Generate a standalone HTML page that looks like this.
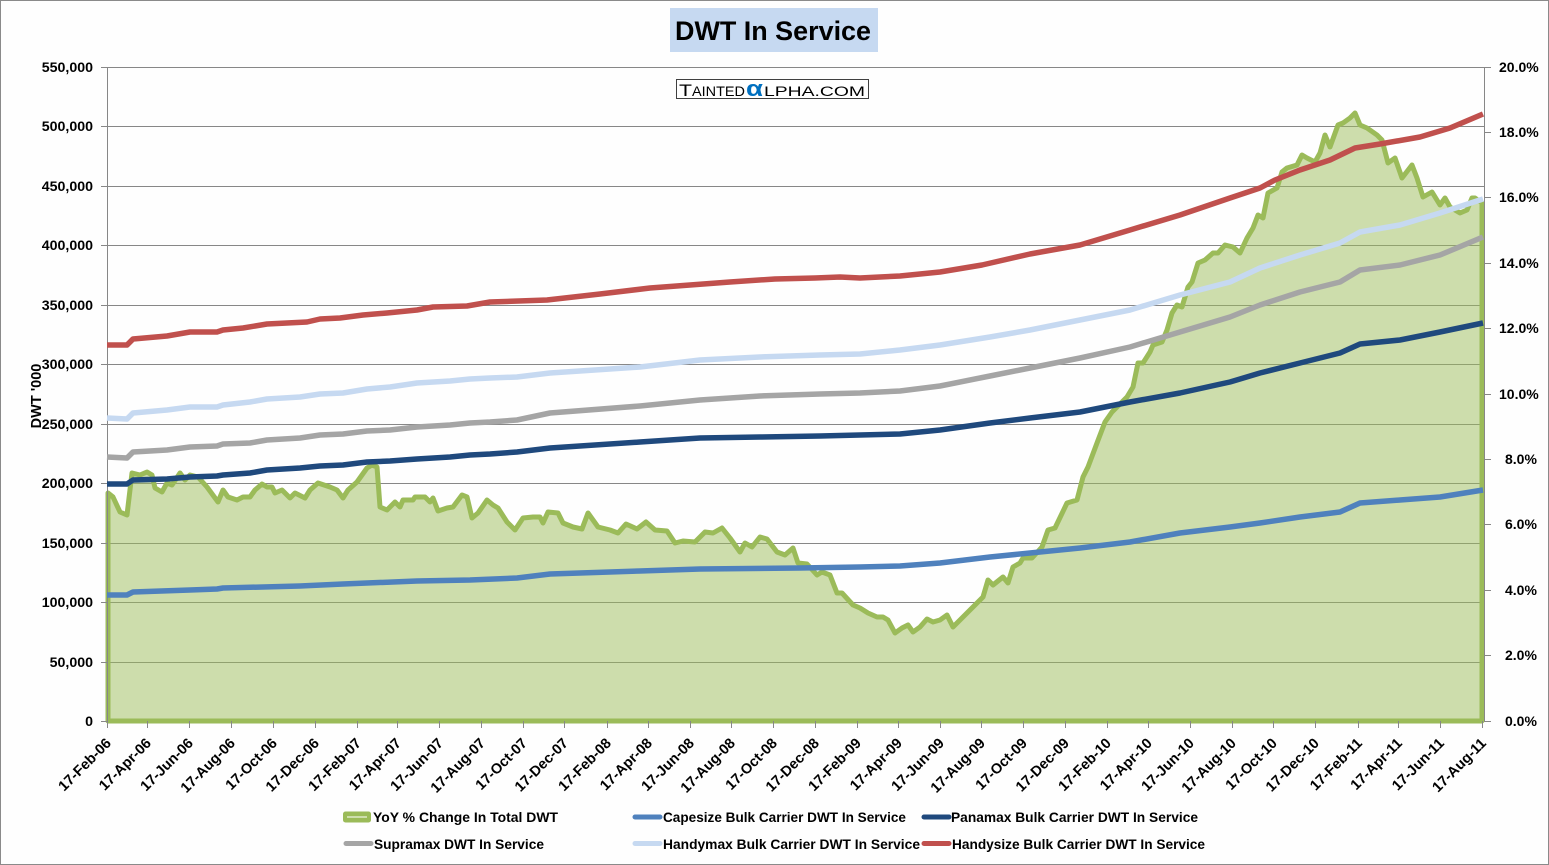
<!DOCTYPE html>
<html>
<head>
<meta charset="utf-8">
<style>
html,body{margin:0;padding:0;background:#fff;}
svg{display:block;}
text{font-family:"Liberation Sans",Arial,sans-serif;font-weight:bold;fill:#000;}
</style>
</head>
<body>
<svg width="1549" height="865" viewBox="0 0 1549 865" xmlns="http://www.w3.org/2000/svg">
<rect x="0.5" y="0.5" width="1548" height="864" fill="#fefefe" stroke="#8a8a8a" stroke-width="1"/>

<!-- Title -->
<rect x="670" y="8" width="208" height="44" fill="#c6d9f1"/>
<text x="675" y="40" font-size="27" textLength="196" lengthAdjust="spacingAndGlyphs" style="font-weight:bold">DWT In Service</text>

<!-- gridlines -->
<g stroke="#878787" stroke-width="1">
<line x1="107" y1="67.5" x2="1484" y2="67.5"/>
<line x1="107" y1="126.5" x2="1484" y2="126.5"/>
<line x1="107" y1="186.5" x2="1484" y2="186.5"/>
<line x1="107" y1="245.5" x2="1484" y2="245.5"/>
<line x1="107" y1="305.5" x2="1484" y2="305.5"/>
<line x1="107" y1="364.5" x2="1484" y2="364.5"/>
<line x1="107" y1="424.5" x2="1484" y2="424.5"/>
<line x1="107" y1="483.5" x2="1484" y2="483.5"/>
<line x1="107" y1="543.5" x2="1484" y2="543.5"/>
<line x1="107" y1="602.5" x2="1484" y2="602.5"/>
<line x1="107" y1="662.5" x2="1484" y2="662.5"/>
<line x1="107" y1="721.5" x2="1484" y2="721.5"/>
</g>

<!-- Logo -->
<rect x="676.5" y="79.5" width="192" height="19" fill="#ffffff" stroke="#404040" stroke-width="1"/>
<text y="96" style="font-weight:normal" fill="#000">
<tspan x="679" font-size="17" textLength="13" lengthAdjust="spacingAndGlyphs">T</tspan><tspan x="692" font-size="13.5" textLength="53" lengthAdjust="spacingAndGlyphs">AINTED</tspan><tspan x="746" font-size="22" fill="#0070c0" style="fill:#0070c0;font-weight:bold" textLength="17" lengthAdjust="spacingAndGlyphs">α</tspan><tspan x="764" font-size="13.5" textLength="101" lengthAdjust="spacingAndGlyphs">LPHA.COM</tspan>
</text>

<!-- YoY area -->
<polygon fill="#9bbb59" fill-opacity="0.5" stroke="none"
points="108,721 108,493 113,497 120,512 127,515 132,473 140,475 147,472 152,475 155,488 162,492 167,483 172,485 180,473 185,480 190,475 198,477 207,487 218,502 223,490 228,497 237,500 243,497 250,497 255,490 262,484 267,487 272,487 275,493 282,490 290,498 295,493 305,498 310,490 318,483 330,487 337,490 343,498 348,490 357,482 367,468 372,465 377,467 380,507 387,510 395,502 400,507 403,500 413,500 415,497 425,497 430,502 433,498 438,511 447,508 453,507 462,495 467,497 472,518 478,513 487,500 493,505 498,508 507,522 515,530 523,518 533,517 540,517 543,523 548,512 558,513 563,523 573,527 582,529 588,513 598,527 610,530 618,533 626,524 637,529 646,522 655,530 667,531 675,543 683,541 695,542 705,532 713,533 722,528 730,538 740,552 745,543 752,547 760,537 767,539 777,552 785,555 793,548 798,563 807,564 817,575 822,572 830,575 837,593 842,593 853,605 860,608 868,613 877,617 883,617 888,620 895,633 902,628 908,625 913,632 920,627 927,619 933,622 940,620 947,615 953,627 960,620 967,613 973,607 983,597 988,580 993,585 1003,577 1008,583 1013,567 1020,563 1023,558 1032,558 1042,547 1048,530 1055,528 1067,503 1077,500 1083,477 1088,467 1097,443 1105,422 1112,412 1127,397 1133,387 1138,363 1143,363 1150,352 1153,345 1162,342 1167,330 1172,313 1177,305 1182,307 1188,287 1192,282 1198,263 1205,260 1213,253 1218,253 1225,245 1233,247 1240,253 1247,238 1253,228 1258,215 1263,218 1268,193 1277,188 1282,172 1287,168 1297,165 1302,155 1307,158 1315,162 1320,153 1325,135 1330,147 1338,125 1343,123 1350,118 1355,113 1360,125 1367,128 1377,135 1382,140 1388,163 1395,158 1402,178 1412,165 1417,178 1423,197 1432,192 1440,205 1445,198 1450,207 1460,213 1467,210 1472,198 1475,198 1482,203 1482,721"/>
<polygon fill="none" stroke="#9bbb59" stroke-width="5" stroke-linejoin="round"
points="108,721 108,493 113,497 120,512 127,515 132,473 140,475 147,472 152,475 155,488 162,492 167,483 172,485 180,473 185,480 190,475 198,477 207,487 218,502 223,490 228,497 237,500 243,497 250,497 255,490 262,484 267,487 272,487 275,493 282,490 290,498 295,493 305,498 310,490 318,483 330,487 337,490 343,498 348,490 357,482 367,468 372,465 377,467 380,507 387,510 395,502 400,507 403,500 413,500 415,497 425,497 430,502 433,498 438,511 447,508 453,507 462,495 467,497 472,518 478,513 487,500 493,505 498,508 507,522 515,530 523,518 533,517 540,517 543,523 548,512 558,513 563,523 573,527 582,529 588,513 598,527 610,530 618,533 626,524 637,529 646,522 655,530 667,531 675,543 683,541 695,542 705,532 713,533 722,528 730,538 740,552 745,543 752,547 760,537 767,539 777,552 785,555 793,548 798,563 807,564 817,575 822,572 830,575 837,593 842,593 853,605 860,608 868,613 877,617 883,617 888,620 895,633 902,628 908,625 913,632 920,627 927,619 933,622 940,620 947,615 953,627 960,620 967,613 973,607 983,597 988,580 993,585 1003,577 1008,583 1013,567 1020,563 1023,558 1032,558 1042,547 1048,530 1055,528 1067,503 1077,500 1083,477 1088,467 1097,443 1105,422 1112,412 1127,397 1133,387 1138,363 1143,363 1150,352 1153,345 1162,342 1167,330 1172,313 1177,305 1182,307 1188,287 1192,282 1198,263 1205,260 1213,253 1218,253 1225,245 1233,247 1240,253 1247,238 1253,228 1258,215 1263,218 1268,193 1277,188 1282,172 1287,168 1297,165 1302,155 1307,158 1315,162 1320,153 1325,135 1330,147 1338,125 1343,123 1350,118 1355,113 1360,125 1367,128 1377,135 1382,140 1388,163 1395,158 1402,178 1412,165 1417,178 1423,197 1432,192 1440,205 1445,198 1450,207 1460,213 1467,210 1472,198 1475,198 1482,203 1482,721"/>

<!-- axes -->
<g stroke="#878787" stroke-width="1">
<line x1="107.5" y1="67" x2="107.5" y2="722"/>
<line x1="1484.5" y1="67" x2="1484.5" y2="722"/>
<!-- left ticks -->
<line x1="101" y1="67.5" x2="107" y2="67.5"/>
<line x1="101" y1="126.5" x2="107" y2="126.5"/>
<line x1="101" y1="186.5" x2="107" y2="186.5"/>
<line x1="101" y1="245.5" x2="107" y2="245.5"/>
<line x1="101" y1="305.5" x2="107" y2="305.5"/>
<line x1="101" y1="364.5" x2="107" y2="364.5"/>
<line x1="101" y1="424.5" x2="107" y2="424.5"/>
<line x1="101" y1="483.5" x2="107" y2="483.5"/>
<line x1="101" y1="543.5" x2="107" y2="543.5"/>
<line x1="101" y1="602.5" x2="107" y2="602.5"/>
<line x1="101" y1="662.5" x2="107" y2="662.5"/>
<line x1="101" y1="721.5" x2="107" y2="721.5"/>
<!-- right ticks -->
<line x1="1484" y1="67.5" x2="1491" y2="67.5"/>
<line x1="1484" y1="132.5" x2="1491" y2="132.5"/>
<line x1="1484" y1="197.5" x2="1491" y2="197.5"/>
<line x1="1484" y1="263.5" x2="1491" y2="263.5"/>
<line x1="1484" y1="328.5" x2="1491" y2="328.5"/>
<line x1="1484" y1="394.5" x2="1491" y2="394.5"/>
<line x1="1484" y1="459.5" x2="1491" y2="459.5"/>
<line x1="1484" y1="524.5" x2="1491" y2="524.5"/>
<line x1="1484" y1="590.5" x2="1491" y2="590.5"/>
<line x1="1484" y1="655.5" x2="1491" y2="655.5"/>
<line x1="1484" y1="721.5" x2="1491" y2="721.5"/>
<!-- x ticks -->
<line x1="107.5" y1="721" x2="107.5" y2="728"/>
<line x1="147.5" y1="721" x2="147.5" y2="728"/>
<line x1="189.5" y1="721" x2="189.5" y2="728"/>
<line x1="231.5" y1="721" x2="231.5" y2="728"/>
<line x1="273.5" y1="721" x2="273.5" y2="728"/>
<line x1="315.5" y1="721" x2="315.5" y2="728"/>
<line x1="357.5" y1="721" x2="357.5" y2="728"/>
<line x1="397.5" y1="721" x2="397.5" y2="728"/>
<line x1="439.5" y1="721" x2="439.5" y2="728"/>
<line x1="481.5" y1="721" x2="481.5" y2="728"/>
<line x1="523.5" y1="721" x2="523.5" y2="728"/>
<line x1="564.5" y1="721" x2="564.5" y2="728"/>
<line x1="607.5" y1="721" x2="607.5" y2="728"/>
<line x1="648.5" y1="721" x2="648.5" y2="728"/>
<line x1="690.5" y1="721" x2="690.5" y2="728"/>
<line x1="731.5" y1="721" x2="731.5" y2="728"/>
<line x1="773.5" y1="721" x2="773.5" y2="728"/>
<line x1="815.5" y1="721" x2="815.5" y2="728"/>
<line x1="857.5" y1="721" x2="857.5" y2="728"/>
<line x1="898.5" y1="721" x2="898.5" y2="728"/>
<line x1="940.5" y1="721" x2="940.5" y2="728"/>
<line x1="981.5" y1="721" x2="981.5" y2="728"/>
<line x1="1023.5" y1="721" x2="1023.5" y2="728"/>
<line x1="1065.5" y1="721" x2="1065.5" y2="728"/>
<line x1="1107.5" y1="721" x2="1107.5" y2="728"/>
<line x1="1148.5" y1="721" x2="1148.5" y2="728"/>
<line x1="1190.5" y1="721" x2="1190.5" y2="728"/>
<line x1="1232.5" y1="721" x2="1232.5" y2="728"/>
<line x1="1273.5" y1="721" x2="1273.5" y2="728"/>
<line x1="1315.5" y1="721" x2="1315.5" y2="728"/>
<line x1="1358.5" y1="721" x2="1358.5" y2="728"/>
<line x1="1398.5" y1="721" x2="1398.5" y2="728"/>
<line x1="1440.5" y1="721" x2="1440.5" y2="728"/>
<line x1="1482.5" y1="721" x2="1482.5" y2="728"/>
</g>

<!-- series lines -->
<g fill="none" stroke-width="5.5" stroke-linejoin="round" stroke-linecap="butt">
<polyline stroke="#4f81bd" points="107,595 127,595 133,592 190,590 217,589 223,588 300,586 343,584 367,583 417,581 470,580 517,578 550,574 640,571 700,569 800,568 860,567 900,566 940,563 990,557 1030,553 1080,548 1130,542 1180,533 1230,527 1260,523 1300,517 1340,512 1360,503 1400,500 1440,497 1483,490"/>
<polyline stroke="#1f497d" points="107,484 127,484 133,480 167,479 190,477 217,476 223,475 250,473 267,470 300,468 320,466 343,465 367,462 390,461 417,459 450,457 470,455 490,454 517,452 550,448 640,442 700,438 760,437 820,436 900,434 940,430 990,423 1030,418 1080,412 1130,402 1180,393 1230,382 1260,373 1300,363 1340,353 1360,344 1400,340 1440,332 1483,323"/>
<polyline stroke="#a5a5a5" points="107,457 127,458 133,452 167,450 190,447 217,446 223,444 250,443 267,440 300,438 320,435 343,434 367,431 390,430 417,427 450,425 470,423 490,422 517,420 550,413 640,406 700,400 760,396 820,394 860,393 900,391 940,386 990,376 1030,368 1080,358 1130,347 1180,332 1230,317 1260,305 1300,292 1340,282 1360,270 1400,265 1440,255 1483,237"/>
<polyline stroke="#c6d9f1" points="107,418 127,419 133,413 167,410 190,407 217,407 223,405 250,402 267,399 300,397 320,394 343,393 367,389 390,387 417,383 450,381 470,379 490,378 517,377 550,373 640,367 700,360 760,357 820,355 860,354 900,350 940,345 990,337 1030,330 1080,320 1130,310 1180,295 1230,282 1260,268 1300,255 1340,243 1360,232 1400,225 1440,213 1483,199"/>
<polyline stroke="#c0504d" points="107,345 127,345 133,339 167,336 190,332 217,332 223,330 243,328 267,324 287,323 307,322 320,319 340,318 363,315 387,313 417,310 433,307 467,306 490,302 547,300 600,294 650,288 690,285 730,282 775,279 815,278 840,277 860,278 880,277 900,276 940,272 982,265 1030,254 1080,245 1130,230 1180,215 1230,198 1260,188 1275,180 1300,170 1330,160 1355,148 1380,144 1420,137 1450,128 1483,114"/>
</g>

<!-- left axis labels -->
<g font-size="14.2" text-anchor="end">
<text x="93" y="72">550,000</text>
<text x="93" y="131">500,000</text>
<text x="93" y="191">450,000</text>
<text x="93" y="250">400,000</text>
<text x="93" y="310">350,000</text>
<text x="93" y="369">300,000</text>
<text x="93" y="429">250,000</text>
<text x="93" y="488">200,000</text>
<text x="93" y="548">150,000</text>
<text x="93" y="607">100,000</text>
<text x="93" y="667">50,000</text>
<text x="93" y="726">0</text>
</g>

<!-- right axis labels -->
<g font-size="14" text-anchor="start">
<text x="1499" y="72">20.0%</text>
<text x="1499" y="137">18.0%</text>
<text x="1499" y="202">16.0%</text>
<text x="1499" y="268">14.0%</text>
<text x="1499" y="333">12.0%</text>
<text x="1499" y="399">10.0%</text>
<text x="1505" y="464">8.0%</text>
<text x="1505" y="529">6.0%</text>
<text x="1505" y="595">4.0%</text>
<text x="1505" y="660">2.0%</text>
<text x="1505" y="726">0.0%</text>
</g>

<!-- y axis title -->
<text transform="translate(41,396) rotate(-90)" font-size="14.5" text-anchor="middle">DWT '000</text>

<!-- x axis labels -->
<g font-size="14.5" text-anchor="end">
<text transform="translate(112,744) rotate(-45)">17-Feb-06</text>
<text transform="translate(152,744) rotate(-45)">17-Apr-06</text>
<text transform="translate(194,744) rotate(-45)">17-Jun-06</text>
<text transform="translate(236,744) rotate(-45)">17-Aug-06</text>
<text transform="translate(278,744) rotate(-45)">17-Oct-06</text>
<text transform="translate(320,744) rotate(-45)">17-Dec-06</text>
<text transform="translate(362,744) rotate(-45)">17-Feb-07</text>
<text transform="translate(402,744) rotate(-45)">17-Apr-07</text>
<text transform="translate(444,744) rotate(-45)">17-Jun-07</text>
<text transform="translate(486,744) rotate(-45)">17-Aug-07</text>
<text transform="translate(528,744) rotate(-45)">17-Oct-07</text>
<text transform="translate(569,744) rotate(-45)">17-Dec-07</text>
<text transform="translate(612,744) rotate(-45)">17-Feb-08</text>
<text transform="translate(653,744) rotate(-45)">17-Apr-08</text>
<text transform="translate(695,744) rotate(-45)">17-Jun-08</text>
<text transform="translate(736,744) rotate(-45)">17-Aug-08</text>
<text transform="translate(778,744) rotate(-45)">17-Oct-08</text>
<text transform="translate(820,744) rotate(-45)">17-Dec-08</text>
<text transform="translate(862,744) rotate(-45)">17-Feb-09</text>
<text transform="translate(903,744) rotate(-45)">17-Apr-09</text>
<text transform="translate(945,744) rotate(-45)">17-Jun-09</text>
<text transform="translate(986,744) rotate(-45)">17-Aug-09</text>
<text transform="translate(1028,744) rotate(-45)">17-Oct-09</text>
<text transform="translate(1070,744) rotate(-45)">17-Dec-09</text>
<text transform="translate(1112,744) rotate(-45)">17-Feb-10</text>
<text transform="translate(1153,744) rotate(-45)">17-Apr-10</text>
<text transform="translate(1195,744) rotate(-45)">17-Jun-10</text>
<text transform="translate(1237,744) rotate(-45)">17-Aug-10</text>
<text transform="translate(1278,744) rotate(-45)">17-Oct-10</text>
<text transform="translate(1320,744) rotate(-45)">17-Dec-10</text>
<text transform="translate(1363,744) rotate(-45)">17-Feb-11</text>
<text transform="translate(1403,744) rotate(-45)">17-Apr-11</text>
<text transform="translate(1445,744) rotate(-45)">17-Jun-11</text>
<text transform="translate(1487,744) rotate(-45)">17-Aug-11</text>
</g>

<!-- legend -->
<rect x="343" y="811.5" width="28" height="11" rx="2.5" fill="#9bbb59"/>
<line x1="347" y1="817" x2="367" y2="817" stroke="#dfe9c9" stroke-width="1.5"/>
<g stroke-width="5" stroke-linecap="round">
<line x1="635" y1="817" x2="660" y2="817" stroke="#4f81bd"/>
<line x1="924" y1="817" x2="949" y2="817" stroke="#1f497d"/>
<line x1="346" y1="843.5" x2="371" y2="843.5" stroke="#a5a5a5"/>
<line x1="635" y1="843.5" x2="660" y2="843.5" stroke="#c6d9f1"/>
<line x1="924" y1="843.5" x2="949" y2="843.5" stroke="#c0504d"/>
</g>
<g font-size="13.6">
<text x="373" y="822" textLength="185" lengthAdjust="spacingAndGlyphs">YoY % Change In Total DWT</text>
<text x="663" y="822" textLength="243" lengthAdjust="spacingAndGlyphs">Capesize Bulk Carrier DWT In Service</text>
<text x="951" y="822" textLength="247" lengthAdjust="spacingAndGlyphs">Panamax Bulk Carrier DWT In Service</text>
<text x="374" y="849" textLength="170" lengthAdjust="spacingAndGlyphs">Supramax DWT In Service</text>
<text x="663" y="849" textLength="257" lengthAdjust="spacingAndGlyphs">Handymax Bulk Carrier DWT In Service</text>
<text x="952" y="849" textLength="253" lengthAdjust="spacingAndGlyphs">Handysize Bulk Carrier DWT In Service</text>
</g>
</svg>
</body>
</html>
